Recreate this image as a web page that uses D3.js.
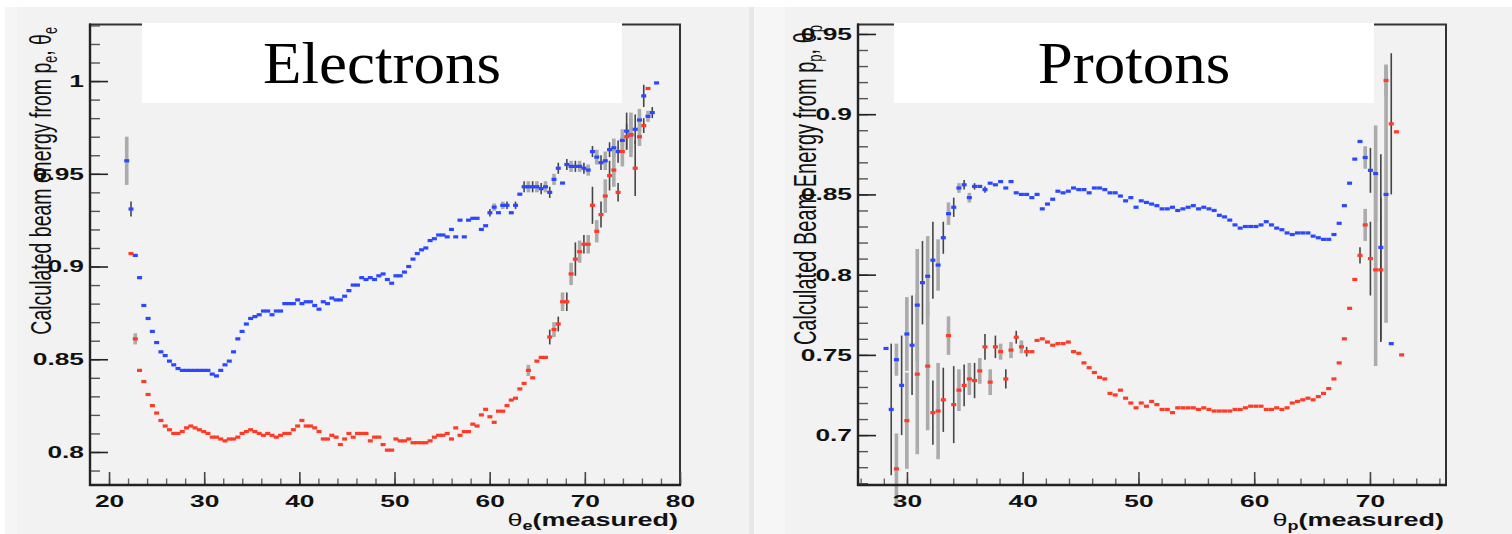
<!DOCTYPE html>
<html>
<head>
<meta charset="utf-8">
<script src="https://cdn.jsdelivr.net/npm/d3@7"></script>
<style>
html, body { margin: 0; padding: 0; background: #fff; }
svg { display: block; }
</style>
</head>
<body>
<svg width="1512" height="534"></svg>
<script>
//Start: Data===

//Electrons: profile bins in theta_e (deg)
var elecThetaStart = 21.86, elecThetaStep = 0.449;

//beam energy from p_e (blue)
var elecBlue = [
  0.957,0.931,0.906,0.894,0.879,0.872,0.865,0.859,0.854,0.852,
  0.849,0.847,0.845,0.844,0.844,0.844,0.844,0.844,0.844,0.844,
  0.842,0.841,0.844,0.847,0.849,0.854,0.861,0.865,0.869,0.872,
  0.873,0.874,0.876,0.876,0.874,0.876,0.876,0.880,0.880,0.880,
  0.882,0.880,0.881,0.881,0.879,0.877,0.881,0.880,0.883,0.882,
  0.882,0.884,0.887,0.890,0.890,0.894,0.893,0.894,0.893,0.895,
  0.896,0.893,0.891,0.895,0.895,0.897,0.900,0.904,0.907,0.909,
  0.910,0.914,0.915,0.917,0.917,0.916,0.920,0.916,0.925,0.916,
  0.925,0.926,0.926,0.920,0.922,0.929,0.932,0.929,0.933,0.933,
  0.929,0.933,0.939,0.943,0.943,0.943,0.943,0.942,0.943,0.940,
  0.947,0.953,0.945,0.955,0.954,0.954,0.954,0.953,0.952,0.962,
  0.959,0.956,0.957,0.963,0.964,0.962,0.968,0.973,0.971,0.974,
  0.979,0.992,0.981,0.983,0.999
];

//beam energy from theta_e (red)
var elecRed = [
  null,0.907,0.861,0.844,0.838,0.831,0.825,0.821,0.817,0.814,
  0.812,0.810,0.810,0.811,0.813,0.814,0.813,0.812,0.811,0.810,
  0.808,0.808,0.807,0.806,0.807,0.807,0.808,0.810,0.811,0.812,
  0.811,0.810,0.809,0.810,0.809,0.808,0.809,0.810,0.810,0.812,
  0.814,0.817,0.814,0.814,0.813,0.811,0.807,0.807,0.809,0.808,
  0.804,0.807,0.810,0.808,0.810,0.810,0.810,0.806,0.808,0.808,
  0.804,0.801,0.801,0.807,0.806,0.806,0.807,0.805,0.805,0.805,
  0.805,0.806,0.808,0.809,0.809,0.810,0.807,0.813,0.809,0.811,
  0.811,0.815,0.814,0.820,0.823,0.819,0.816,0.822,0.822,0.825,
  0.828,0.829,0.834,0.837,0.844,0.840,0.849,0.851,0.851,0.862,
  0.866,0.869,0.881,0.881,0.896,0.904,0.908,0.912,0.912,0.933,
  0.919,0.928,0.938,0.949,0.952,0.940,0.962,0.970,0.971,0.953,
  0.970,0.976,0.996
];

//[bin, half error]
var elecBlueErr = [[0,0.013],[1,0.004],[85,0.002],[86,0.002],[88,0.002],[89,0.002],[91,0.002],
  [93,0.003],[94,0.003],[95,0.003],[96,0.003],[97,0.003],[98,0.003],[99,0.003],[100,0.003],
  [101,0.003],[103,0.003],[104,0.003],[105,0.003],[106,0.003],[107,0.003],[108,0.003],[109,0.003],
  [110,0.004],[111,0.004],[112,0.005],[113,0.004],[114,0.005],[115,0.006],[116,0.006],[117,0.010],
  [118,0.009],[119,0.008],[120,0.006],[121,0.006],[122,0.003],[123,0.003]];
var elecRedErr = [[2,0.003],[94,0.003],[99,0.004],[100,0.004],[101,0.004],[102,0.005],[103,0.005],
  [104,0.006],[105,0.009],[106,0.006],[107,0.005],[108,0.005],[109,0.010],[110,0.006],[111,0.007],
  [112,0.009],[113,0.008],[114,0.009],[115,0.005],[116,0.008],[117,0.007],[118,0.012],[119,0.015],
  [120,0.005],[121,0.004]];

var elecYTicks = [0.8, 0.85, 0.9, 0.95, 1];
var elecYLabels = ["0.8", "0.85", "0.9", "0.95", "1"];
var elecXTicks = [20, 30, 40, 50, 60, 70, 80];

//Protons: profile bins in theta_p (deg)
var protThetaStart = 28.19, protThetaStep = 0.45;

var protBlue = [
  0.754,0.716,0.747,0.731,0.763,0.756,0.781,0.795,0.799,0.809,
  0.806,0.823,0.838,0.842,0.854,0.856,0.848,0.855,0.855,0.853,
  0.857,0.856,0.858,0.854,0.858,0.851,0.850,0.850,0.848,0.850,
  0.841,0.844,0.847,0.852,0.851,0.852,0.854,0.853,0.853,0.851,
  0.854,0.854,0.853,0.851,0.851,0.849,0.846,0.848,0.842,0.846,
  0.845,0.844,0.843,0.841,0.841,0.842,0.840,0.841,0.842,0.843,
  0.841,0.842,0.841,0.840,0.837,0.836,0.834,0.831,0.829,0.830,
  0.830,0.830,0.831,0.833,0.831,0.829,0.828,0.826,0.825,0.826,
  0.826,0.826,0.824,0.823,0.822,0.822,0.825,0.832,0.843,0.857,
  0.872,0.883,0.873,0.865,0.863,0.817,0.850,0.757
];

var protRed = [
  null,null,0.679,null,0.709,null,0.738,null,0.743,0.714,
  0.715,0.722,0.762,0.719,0.728,0.731,0.735,0.734,0.740,0.755,
  0.733,0.755,0.752,0.735,0.753,0.761,0.755,0.752,0.752,0.759,
  0.760,0.758,0.756,0.757,0.757,0.758,0.752,0.751,0.745,0.742,
  0.739,0.736,0.735,0.726,0.725,0.728,0.723,0.720,0.717,0.720,
  0.718,0.721,0.719,0.716,0.716,0.714,0.717,0.717,0.717,0.717,
  0.716,0.717,0.716,0.715,0.715,0.715,0.715,0.716,0.716,0.717,
  0.718,0.718,0.718,0.716,0.716,0.717,0.716,0.717,0.720,0.721,
  0.722,0.723,0.722,0.724,0.726,0.729,0.735,0.745,0.760,0.779,
  0.797,0.812,0.831,0.810,0.803,0.803,0.921,0.894,0.889,0.750
];

var protBlueErr = [[1,0.041],[2,0.010],[3,0.031],[4,0.023],[5,0.031],[6,0.035],[7,0.026],[8,0.025],
  [9,0.024],[10,0.016],[11,0.010],[12,0.007],[13,0.006],[14,0.003],[15,0.003],[16,0.003],[17,0.002],
  [19,0.002],[92,0.007],[93,0.014],[94,0.030],[95,0.058],[96,0.080]];
var protRedErr = [[2,0.022],[4,0.030],[6,0.050],[8,0.040],[9,0.020],[10,0.030],[11,0.020],[12,0.012],
  [13,0.024],[14,0.013],[15,0.013],[16,0.010],[17,0.011],[18,0.008],[19,0.008],[20,0.008],[21,0.007],
  [22,0.005],[23,0.006],[24,0.005],[25,0.004],[26,0.004],[27,0.003],[91,0.005],[92,0.010],[93,0.023],
  [94,0.060],[95,0.045],[96,0.010],[97,0.044]];

var protYTicks = [0.7, 0.75, 0.8, 0.85, 0.9, 0.95];
var protYLabels = ["0.7", "0.75", "0.8", "0.85", "0.9", "0.95"];
var protXTicks = [30, 40, 50, 60, 70];

//End: Data===

var FONT = "'Liberation Sans', Arial, Helvetica, sans-serif";
var SERIF = "'Liberation Serif', 'Times New Roman', serif";
var SX = 1.55; // the picture is squeezed wide, so text is too

var svg = d3.select('svg');

//page / pad backgrounds
svg.append('rect').attr('x', 0).attr('y', 0).attr('width', 1512).attr('height', 534).attr('fill', '#fff');
svg.append('rect').attr('x', 5).attr('y', 7).attr('width', 744).attr('height', 527).attr('fill', '#f5f5f5');
svg.append('rect').attr('x', 17).attr('y', 7).attr('width', 732).attr('height', 527).attr('fill', '#f2f2f2');
svg.append('rect').attr('x', 749).attr('y', 7).attr('width', 5).attr('height', 527).attr('fill', '#e7e7e7');
svg.append('rect').attr('x', 754).attr('y', 7).attr('width', 758).attr('height', 527).attr('fill', '#f6f6f6');
svg.append('rect').attr('x', 785).attr('y', 7).attr('width', 727).attr('height', 527).attr('fill', '#f2f2f2');

function toPoints(vals, start, step) {
  return vals.map(function(v, i) { return {t: start + i * step, v: v, i: i}; })
    .filter(function(d) { return d.v !== null; });
}

function drawPanel(p) {
  var g = svg.append('g');
  var x = d3.scaleLinear().domain(p.xDomain).range([p.left, p.right]);
  var y = d3.scaleLinear().domain(p.yDomain).range([p.bottom, p.top]);

  //frame
  g.append('rect')
    .attr('x', p.left).attr('y', p.top)
    .attr('width', p.right - p.left).attr('height', p.bottom - p.top)
    .attr('fill', 'none').attr('stroke', '#333').attr('stroke-width', 2);

  var series = [
    {pts: toPoints(p.blue, p.start, p.step), err: new Map(p.blueErr), color: '#2b48ff'},
    {pts: toPoints(p.red, p.start, p.step), err: new Map(p.redErr), color: '#ff3a26'}
  ];

  //error bars (two kinds of bars, light wide and dark thin)
  series.forEach(function(s) {
    var withErr = s.pts.filter(function(d) { return s.err.has(d.i); });
    g.append('g').selectAll('line')
      .data(withErr)
      .enter().append('line')
        .attr('x1', function(d) { return x(d.t); })
        .attr('x2', function(d) { return x(d.t); })
        .attr('y1', function(d) { return y(d.v + s.err.get(d.i)); })
        .attr('y2', function(d) { return y(d.v - s.err.get(d.i)); })
        .attr('stroke', function(d) { return d.i % 2 ? '#454545' : '#ababab'; })
        .attr('stroke-width', function(d) { return d.i % 2 ? 1.6 : 3.6; });
  });

  //markers
  series.forEach(function(s) {
    g.append('g').selectAll('rect')
      .data(s.pts)
      .enter().append('rect')
        .attr('x', function(d) { return x(d.t) - 2.5; })
        .attr('y', function(d) { return y(d.v) - 1.6; })
        .attr('width', 5).attr('height', 3.2)
        .attr('fill', s.color);
  });

  //y axis, ticks inside
  var yMinor = d3.axisLeft(y).tickValues(p.yMinor).tickSize(-10).tickSizeOuter(0).tickFormat('');
  var ym = g.append('g').attr('transform', 'translate(' + p.left + ',0)').call(yMinor);
  ym.select('.domain').remove();
  ym.selectAll('line').attr('stroke', '#555').attr('stroke-width', 1.4);

  var yAxis = d3.axisLeft(y).tickValues(p.yTicks).tickSize(-18).tickSizeOuter(0).tickPadding(6)
    .tickFormat(function(d) { return p.yLabels[p.yTicks.indexOf(d)]; });
  var ya = g.append('g').attr('transform', 'translate(' + p.left + ',0)').call(yAxis)
    .attr('font-family', FONT).attr('font-size', 17).attr('font-weight', 'bold');
  ya.select('.domain').remove();
  ya.selectAll('line').attr('stroke', '#222').attr('stroke-width', 1.6);
  ya.selectAll('text').attr('x', -6 / SX).attr('transform', 'scale(' + SX + ',1)').attr('fill', '#111');

  //x axis, ticks inside
  var xMinor = d3.axisBottom(x).tickValues(p.xMinor).tickSize(-6.5).tickSizeOuter(0).tickFormat('');
  var xm = g.append('g').attr('transform', 'translate(0,' + p.bottom + ')').call(xMinor);
  xm.select('.domain').remove();
  xm.selectAll('line').attr('stroke', '#666').attr('stroke-width', 1.4);

  var xAxis = d3.axisBottom(x).tickValues(p.xTicks).tickSize(-13).tickSizeOuter(0).tickPadding(10);
  var xa = g.append('g').attr('transform', 'translate(0,' + p.bottom + ')').call(xAxis)
    .attr('font-family', FONT).attr('font-size', 17).attr('font-weight', 'bold');
  xa.select('.domain').remove();
  xa.selectAll('line').attr('stroke', '#444').attr('stroke-width', 1.6);
  xa.selectAll('text').attr('transform', 'scale(' + SX + ',1)').attr('fill', '#111');

  //heavier left and bottom axis lines
  g.append('line').attr('x1', p.left).attr('x2', p.left).attr('y1', p.top - 1).attr('y2', p.bottom + 1)
    .attr('stroke', '#222').attr('stroke-width', 2.4);
  g.append('line').attr('x1', p.left - 1).attr('x2', p.right + 1).attr('y1', p.bottom).attr('y2', p.bottom)
    .attr('stroke', '#222').attr('stroke-width', 2.4);

  //x title
  var xt = g.append('text')
    .attr('transform', 'translate(' + (p.right - 2) + ',526) scale(1.5,1)')
    .attr('text-anchor', 'end').attr('font-family', FONT).attr('font-size', 18)
    .attr('font-weight', 'bold').attr('fill', '#111');
  xt.append('tspan').attr('font-weight', 'normal').text('\u03b8');
  xt.append('tspan').attr('font-size', 12).attr('dy', 4).text(p.sub);
  xt.append('tspan').attr('dy', -4).text('(measured)');

  //y title, rotated
  var yt = g.append('text')
    .attr('transform', 'translate(' + p.yTitleX + ',' + p.yTitleTop + ') rotate(-90) scale(1,1.55)')
    .attr('text-anchor', 'end').attr('font-family', FONT).attr('font-size', p.yTitleSize)
    .attr('fill', '#111');
  yt.append('tspan').text(p.yTitle);
  yt.append('tspan').attr('font-size', p.yTitleSize * 0.65).attr('dy', 4).text(p.sub);
  yt.append('tspan').attr('dy', -4).text(', \u03b8');
  yt.append('tspan').attr('font-size', p.yTitleSize * 0.65).attr('dy', 4).text(p.sub);

  //title box
  g.append('rect').attr('x', p.boxX).attr('y', 23).attr('width', 480).attr('height', 80).attr('fill', '#fff');
  g.append('text')
    .attr('transform', 'translate(' + (p.boxX + 240) + ',83) scale(1.05,1)')
    .attr('text-anchor', 'middle').attr('font-family', SERIF).attr('font-size', 60)
    .attr('fill', '#000').text(p.title);
}

drawPanel({
  left: 90, right: 680, top: 24.5, bottom: 485,
  xDomain: [18, 80], yDomain: [0.7822, 1.0305],
  start: elecThetaStart, step: elecThetaStep,
  blue: elecBlue, red: elecRed, blueErr: elecBlueErr, redErr: elecRedErr,
  yTicks: elecYTicks, yLabels: elecYLabels, yMinor: d3.range(79, 104).map(function(k) { return k / 100; }),
  xTicks: elecXTicks, xMinor: d3.range(20, 81, 2),
  sub: 'e', yTitle: 'Calculated beam energy from p', yTitleX: 51, yTitleTop: 27, yTitleSize: 19.5,
  boxX: 142, title: 'Electrons'
});

drawPanel({
  left: 858, right: 1446, top: 24.5, bottom: 485,
  xDomain: [25.77, 76.57], yDomain: [0.6689, 0.9559],
  start: protThetaStart, step: protThetaStep,
  blue: protBlue, red: protRed, blueErr: protBlueErr, redErr: protRedErr,
  yTicks: protYTicks, yLabels: protYLabels, yMinor: d3.range(67, 96).map(function(k) { return k / 100; }),
  xTicks: protXTicks, xMinor: d3.range(26, 77, 2),
  sub: 'p', yTitle: 'Calculated Beam Energy from p', yTitleX: 816, yTitleTop: 25, yTitleSize: 20,
  boxX: 894, title: 'Protons'
});
</script>
</body>
</html>
